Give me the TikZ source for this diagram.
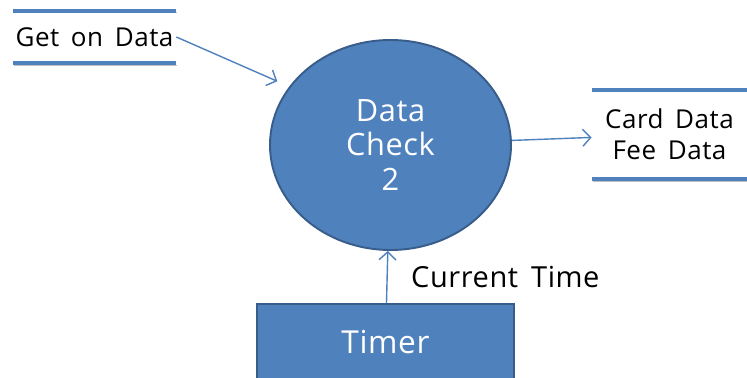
\documentclass[tikz,border=0pt]{standalone}
\usepackage{fontspec}
\setmainfont[LetterSpace=2,WordSpace=1.6]{Open Sans}
\usetikzlibrary{positioning}
\usetikzlibrary{arrows.meta,shapes.geometric}
\definecolor{dfdblue}{HTML}{4F81BD}
\definecolor{dfdedge}{HTML}{385D8A}

\begin{document}
\begin{tikzpicture}[->,>={Straight Barb[length=1.6mm,width=3.4mm]},on grid,
process/.style={ellipse,fill=dfdblue,draw=dfdedge,line width=1.1pt,minimum width=4.82cm,minimum height=4.2cm,inner sep=0pt,text=white,align=center,font=\fontsize{17.5}{19.9}\selectfont},
store/.style={rectangle,inner sep=0pt,align=center,font=\fontsize{14.8}{17.6}\selectfont},
ext/.style={rectangle,fill=dfdblue,draw=dfdedge,line width=1.1pt,minimum width=5.14cm,minimum height=1.52cm,text=white,font=\fontsize{18}{20}\selectfont},
storeline/.style={-,draw=dfdblue,line width=2.3pt,preaction={draw=black!25,transform canvas={xshift=0.5pt,yshift=-1pt}}},
flow/.style={draw=dfdblue,line width=0.8pt}]
\useasboundingbox (0,0) rectangle (14.94,7.56);
\node[process] (dc) at (7.81,4.66) {Data\\Check\\2};
\node[store,minimum width=3.26cm,minimum height=1.04cm] (gst) [above left=2.16cm and 5.92cm of dc] {Get on Data};
\node[store,minimum width=3.1cm,minimum height=1.78cm] (cfd) [above right=0.21cm and 5.58cm of dc] {Card Data\\Fee Data};
\node[ext] (timer) [below=3.94cm of dc,xshift=-0.1cm] {Timer};

\foreach \s in {gst,cfd}
  \draw[storeline] (\s.north west) -- (\s.north east) (\s.south west) -- (\s.south east);

\path (gst.east) edge[flow,shorten >=0.26cm] (dc.150)
      (dc)       edge[flow]                   (cfd)
      (timer)    edge[flow] node[right,xshift=0.35cm,font=\fontsize{16.5}{18}\selectfont]{Current Time} (dc);
\end{tikzpicture}
\end{document}
